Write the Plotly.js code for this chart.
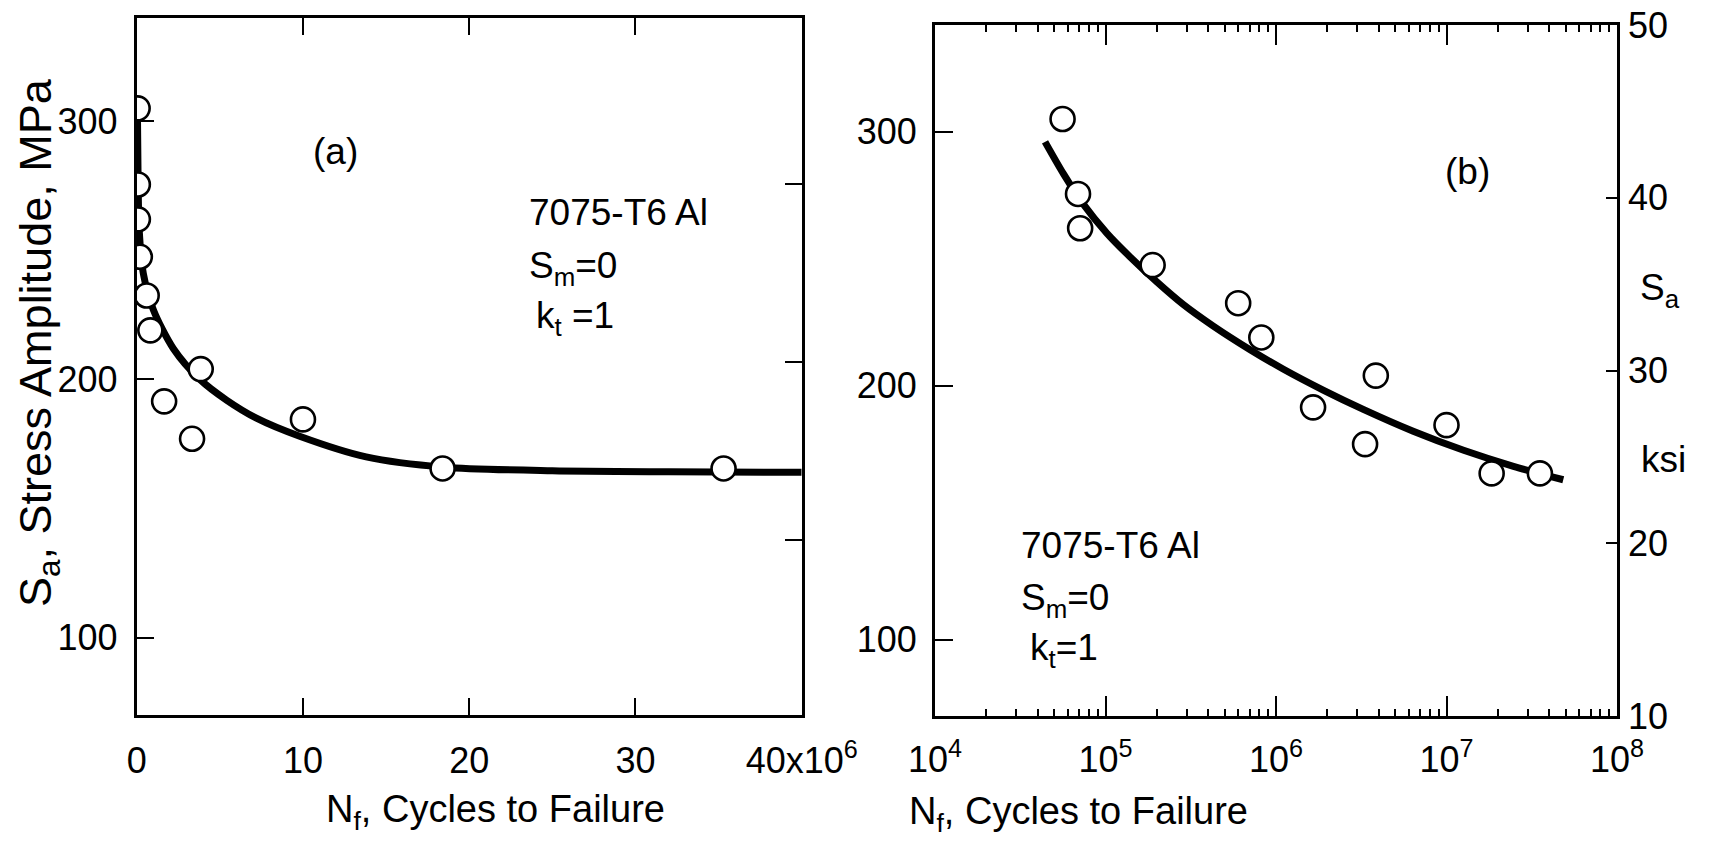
<!DOCTYPE html>
<html>
<head>
<meta charset="utf-8">
<script src="https://cdn.plot.ly/plotly-3.0.1.min.js"></script>
<style>html,body{margin:0;padding:0;background:#fff;}#chart{width:1733px;height:849px;}</style>
</head>
<body>
<div id="chart"></div>
<script>
// ---- data (7075-T6 Al, Sm = 0, kt = 1) ----
const cyclesToFailure = [5.6e4, 6.9e4, 7.1e4, 1.89e5, 6.0e5, 8.2e5, 1.65e6, 3.33e6, 3.85e6, 1.0e7, 1.84e7, 3.53e7];
const stressAmplitudeMPa = [305, 275.5, 262, 247.5, 232.5, 219, 191.5, 177, 204, 184.5, 165.5, 165.5];

// fitted curve, panel (a), linear N axis
const fitCyclesA = [4e4, 8e4, 1.5e5, 4e5, 1.0e6, 2.2e6, 3.8e6, 5.4e6, 7.2e6, 9.8e6, 13.8e6, 18.5e6, 25e6, 32e6, 40e6];
const fitStressA = [306, 280, 258, 241, 227, 212, 200, 192, 185, 178, 170, 166, 164.6, 164.2, 164];

// fitted curve, panel (b), log N axis
const fitCyclesB = [4.42e4, 5.66e4, 7.41e4, 1.02e5, 1.39e5, 2.0e5, 2.86e5, 4.29e5, 7.05e5, 1.10e6, 1.89e6, 3.25e6, 6.38e6, 1.26e7, 2.47e7, 4.84e7];
const fitStressB = [296, 283.5, 271.5, 260, 250.8, 240.9, 232, 223.5, 214.2, 206.6, 198.3, 190.7, 182.1, 174.6, 168.3, 163];

// tick labels
const linTickVals = [0, 10e6, 20e6, 30e6, 40e6];
const linTickText = ["0", "10", "20", "30", "40x10<sup>6</sup>"];
const logTickVals = [1e4, 1e5, 1e6, 1e7, 1e8];
const logTickText = ["10<sup>4</sup>", "10<sup>5</sup>", "10<sup>6</sup>", "10<sup>7</sup>", "10<sup>8</sup>"];
const mpaTicks = [100, 200, 300];
const ksiTicks = [10, 20, 30, 40, 50];
const ksiTicksA = [20, 30, 40];
const MPA_PER_KSI = 6.895;

// ---- styling ----
const FONT = "'Liberation Sans', Arial, Helvetica, sans-serif";
const BLACK = "#000";
const W = 1733, H = 849;
const px = v => v / W;
const py = v => 1 - v / H;

const markerStyle = {symbol: "circle", size: 24, color: "#fff", line: {color: BLACK, width: 2.6}};
const curveStyle = {color: BLACK, width: 7, shape: "spline", smoothing: 0.8};

const traces = [
  {x: fitCyclesA, y: fitStressA, xaxis: "x", yaxis: "y", mode: "lines", line: curveStyle, hoverinfo: "skip"},
  {x: cyclesToFailure, y: stressAmplitudeMPa, xaxis: "x", yaxis: "y", mode: "markers", marker: markerStyle},
  {x: fitCyclesB, y: fitStressB, xaxis: "x2", yaxis: "y2", mode: "lines", line: curveStyle, hoverinfo: "skip"},
  {x: cyclesToFailure, y: stressAmplitudeMPa, xaxis: "x2", yaxis: "y2", mode: "markers", marker: markerStyle},
  {x: [], y: [], xaxis: "x", yaxis: "y3", mode: "markers"},
  {x: [], y: [], xaxis: "x2", yaxis: "y4", mode: "markers"}
];

const tickFont = {family: FONT, size: 36, color: BLACK};
const baseAxis = {
  showline: true, linecolor: BLACK, linewidth: 3, showgrid: false, zeroline: false,
  ticks: "inside", tickcolor: BLACK, tickwidth: 2, tickfont: tickFont, automargin: false, fixedrange: true
};

const annFont = {family: FONT, size: 37, color: BLACK};
function note(text, x, y, opts) {
  return Object.assign({text: text, x: px(x), y: py(y), xref: "paper", yref: "paper", showarrow: false, font: annFont, xanchor: "center", yanchor: "middle"}, opts || {});
}

const layout = {
  width: W, height: H,
  margin: {l: 0, r: 0, t: 0, b: 0},
  paper_bgcolor: "#fff", plot_bgcolor: "#fff",
  showlegend: false,
  xaxis: Object.assign({}, baseAxis, {
    domain: [px(136.7), px(801.7)], anchor: "y", range: [0, 40e6],
    tickmode: "array", tickvals: linTickVals, ticktext: linTickText,
    ticklen: 17, mirror: "ticks", ticklabelstandoff: 12
  }),
  yaxis: Object.assign({}, baseAxis, {
    domain: [py(715), py(18)], anchor: "x", range: [70, 340],
    tickmode: "array", tickvals: mpaTicks, ticklen: 17, mirror: true, ticklabelstandoff: 9
  }),
  yaxis3: Object.assign({}, baseAxis, {
    overlaying: "y", anchor: "x", side: "right", range: [70 / MPA_PER_KSI, 340 / MPA_PER_KSI],
    tickmode: "array", tickvals: ksiTicksA, showticklabels: false, ticklen: 17, showline: false
  }),
  xaxis2: Object.assign({}, baseAxis, {
    domain: [px(935), px(1617)], anchor: "y2", type: "log", range: [4, 8],
    tickmode: "array", tickvals: logTickVals, ticktext: logTickText,
    ticklen: 20, mirror: "ticks", ticklabelstandoff: 10,
    minor: {ticks: "inside", ticklen: 7, tickwidth: 2, tickcolor: BLACK, dtick: "D1", showgrid: false}
  }),
  yaxis2: Object.assign({}, baseAxis, {
    domain: [py(716), py(25)], anchor: "x2", range: [70, 342],
    tickmode: "array", tickvals: mpaTicks, ticklen: 18, mirror: true, ticklabelstandoff: 8
  }),
  yaxis4: Object.assign({}, baseAxis, {
    overlaying: "y2", anchor: "x2", side: "right", range: [10, 50],
    tickmode: "array", tickvals: ksiTicks, ticklen: 11, showline: false, ticklabelstandoff: 10
  }),
  annotations: [
    note("S<sub>a</sub>, Stress Amplitude, MPa", 38, 343, {textangle: -90, font: {family: FONT, size: 45, color: BLACK}}),
    note("N<sub>f</sub>, Cycles to Failure", 495, 812, {font: {family: FONT, size: 38, color: BLACK}}),
    note("N<sub>f</sub>, Cycles to Failure", 1078, 814, {font: {family: FONT, size: 38, color: BLACK}}),
    note("(a)", 335, 152),
    note("7075-T6 Al", 527, 212, {xanchor: "left"}),
    note("S<sub>m</sub>=0", 527, 268, {xanchor: "left"}),
    note("k<sub>t</sub> =1", 534, 318, {xanchor: "left"}),
    note("(b)", 1467, 171),
    note("7075-T6 Al", 1019, 545, {xanchor: "left"}),
    note("S<sub>m</sub>=0", 1019, 600, {xanchor: "left"}),
    note("k<sub>t</sub>=1", 1028, 650, {xanchor: "left"}),
    note("S<sub>a</sub>", 1660, 290),
    note("ksi", 1663, 460)
  ]
};

Plotly.newPlot("chart", traces, layout, {staticPlot: true, displayModeBar: false});
</script>
</body>
</html>
